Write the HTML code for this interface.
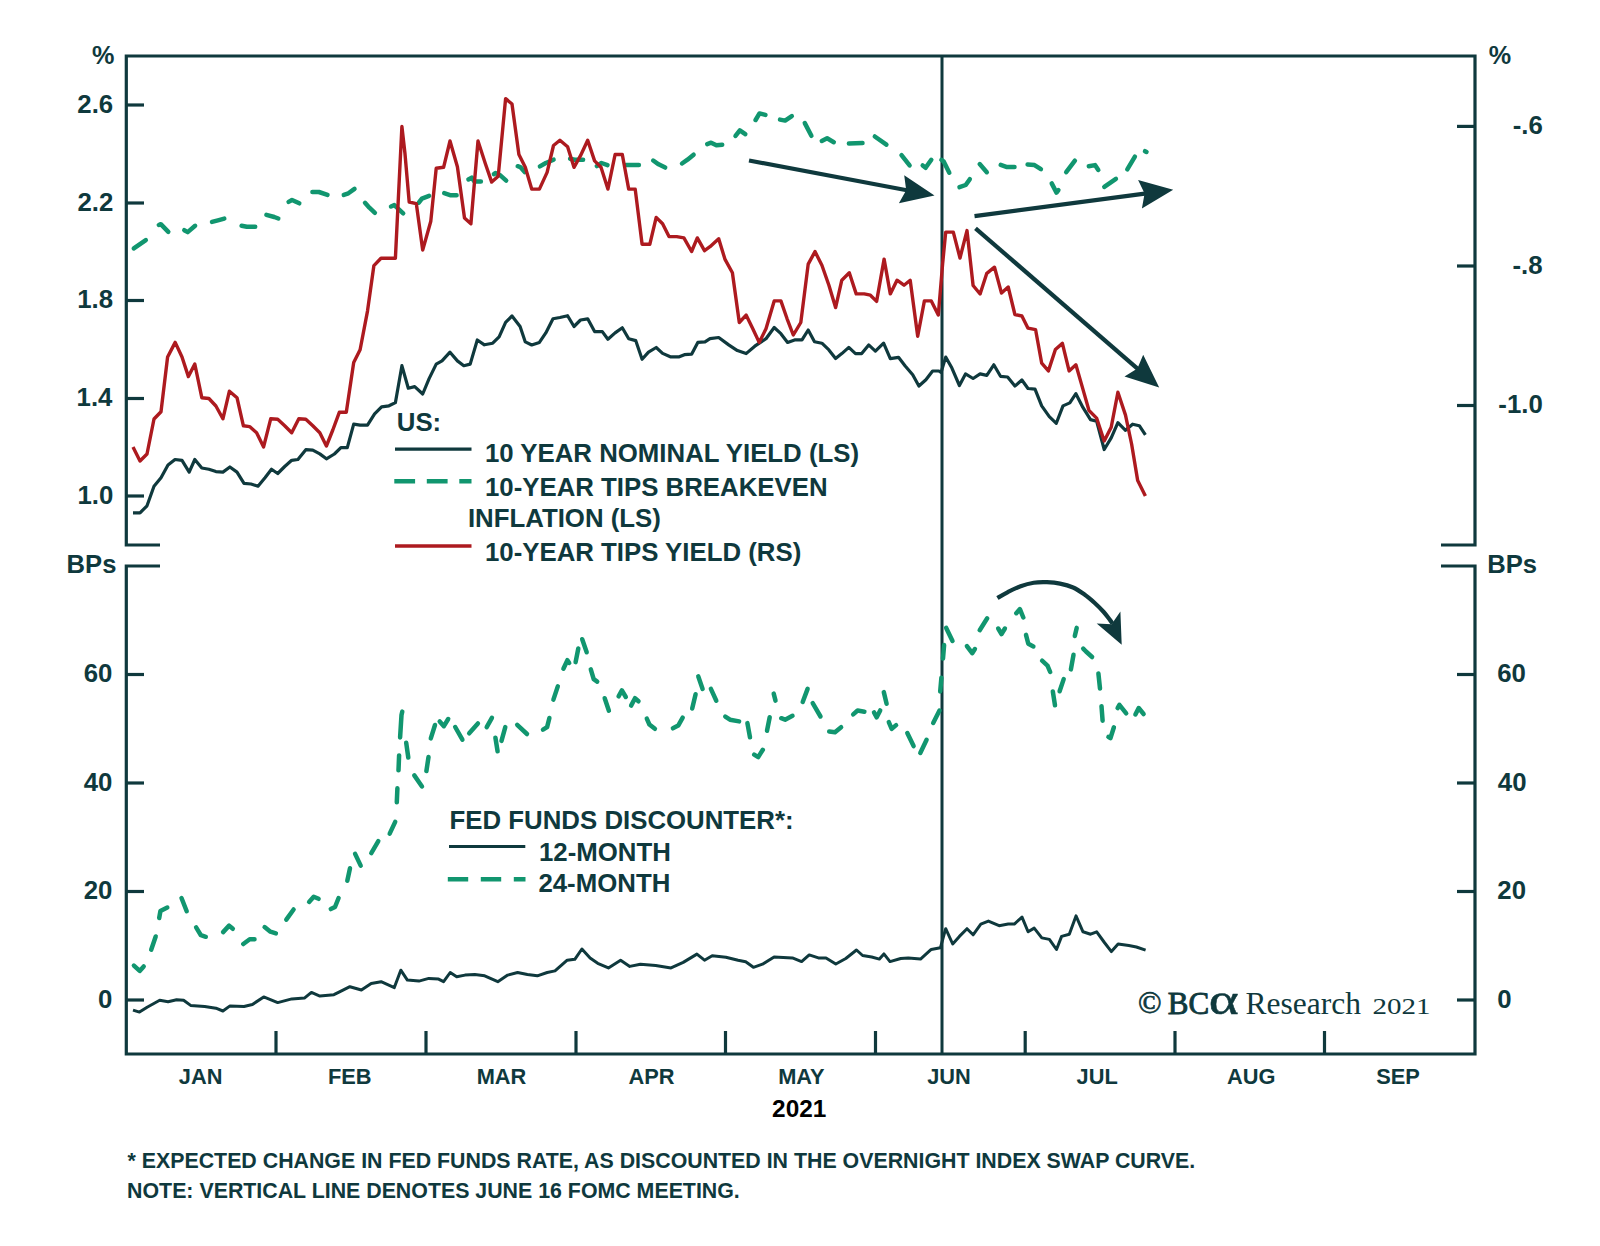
<!DOCTYPE html>
<html><head><meta charset="utf-8"><title>Chart</title>
<style>html,body{margin:0;padding:0;background:#fff;} svg{display:block;}</style></head>
<body><svg width="1600" height="1246" viewBox="0 0 1600 1246">
<rect width="1600" height="1246" fill="#fff"/>
<g stroke="#0f393d" stroke-width="3.2" fill="none" stroke-linecap="butt">
<path d="M160,545 H126.3 V56 H1475 V545 H1441" stroke-linejoin="miter"/>
<path d="M160,566 H126.3 V1054 H1475 V566 H1441" stroke-linejoin="miter"/>
<line x1="126" y1="105" x2="144" y2="105"/>
<line x1="126" y1="203" x2="144" y2="203"/>
<line x1="126" y1="300.5" x2="144" y2="300.5"/>
<line x1="126" y1="398.5" x2="144" y2="398.5"/>
<line x1="126" y1="496" x2="144" y2="496"/>
<line x1="1457" y1="126.4" x2="1475" y2="126.4"/>
<line x1="1457" y1="266" x2="1475" y2="266"/>
<line x1="1457" y1="405.5" x2="1475" y2="405.5"/>
<line x1="126" y1="674.5" x2="144" y2="674.5"/>
<line x1="1457" y1="674.5" x2="1475" y2="674.5"/>
<line x1="126" y1="783" x2="144" y2="783"/>
<line x1="1457" y1="783" x2="1475" y2="783"/>
<line x1="126" y1="891.5" x2="144" y2="891.5"/>
<line x1="1457" y1="891.5" x2="1475" y2="891.5"/>
<line x1="126" y1="1000" x2="144" y2="1000"/>
<line x1="1457" y1="1000" x2="1475" y2="1000"/>
<line x1="276" y1="1031" x2="276" y2="1054"/>
<line x1="426" y1="1031" x2="426" y2="1054"/>
<line x1="576" y1="1031" x2="576" y2="1054"/>
<line x1="725.5" y1="1031" x2="725.5" y2="1054"/>
<line x1="875.5" y1="1031" x2="875.5" y2="1054"/>
<line x1="1025.2" y1="1031" x2="1025.2" y2="1054"/>
<line x1="1175" y1="1031" x2="1175" y2="1054"/>
<line x1="1324.5" y1="1031" x2="1324.5" y2="1054"/>
</g>
<line x1="942" y1="56" x2="942" y2="1054" stroke="#0f393d" stroke-width="3"/>
<g fill="none" stroke="#11966f" stroke-width="4.5" stroke-linejoin="round" stroke-linecap="round"><polyline points="133.8,248.4 145.8,240.1"/><polyline points="158.8,225.0 160.8,224.2 168.3,231.8"/><polyline points="184.3,230.2 187.7,232.1 195.1,225.8"/><polyline points="212.0,221.9 217.9,220.3 224.3,218.6"/><polyline points="241.6,225.8 246.8,226.8 255.2,226.8"/><polyline points="266.4,214.8 274.3,217.0 278.3,218.5"/><polyline points="288.6,201.9 292.0,200.0 299.3,203.3"/><polyline points="312.4,192.0 318.9,192.0 327.5,194.9"/><polyline points="343.8,194.9 348.4,193.3 354.5,188.9"/><polyline points="365.0,202.8 369.4,207.7 374.9,212.8"/><polyline points="391.0,206.5 394.3,205.1 403.2,213.3"/><polyline points="418.8,202.7 421.9,198.6 429.1,195.8"/><polyline points="444.2,193.1 450.8,195.3 456.6,195.3"/><polyline points="468.4,179.5 471.7,177.6 474.4,181.5 480.9,181.5"/><polyline points="493.9,174.1 495.4,173.0 500.6,175.6 506.2,180.6"/><polyline points="517.7,166.2 520.3,167.1 524.7,172.0"/><polyline points="539.9,166.4 545.8,163.0 553.6,159.7"/><polyline points="570.1,158.7 574.6,159.7 583.1,159.7"/><polyline points="596.8,166.1 601.5,163.0 607.5,165.1"/><polyline points="625.9,165.0 638.9,165.0"/><polyline points="653.2,160.5 658.6,164.3 665.2,167.6"/><polyline points="682.0,163.5 687.5,159.7 693.6,154.7"/><polyline points="707.2,144.1 711.1,142.7 716.4,145.3 722.2,144.7"/><polyline points="735.5,135.9 739.8,130.4 745.3,134.2"/><polyline points="755.6,120.0 759.5,113.4 765.4,114.9"/><polyline points="780.0,119.6 785.1,120.6 791.8,116.1"/><polyline points="804.8,123.1 811.4,135.8"/><polyline points="821.8,141.0 827.1,138.3 833.8,142.2"/><polyline points="848.9,143.5 862.5,143.0"/><polyline points="874.8,136.5 886.4,144.7"/><polyline points="901.5,155.2 909.6,165.4"/><polyline points="922.7,165.5 925.6,167.8 931.3,159.8"/><polyline points="941.4,159.8 943.7,161.6 949.3,172.7"/><polyline points="959.5,187.2 965.7,185.0 969.8,179.2"/><polyline points="979.7,164.1 986.8,172.2"/><polyline points="1000.7,164.9 1007.0,167.1 1014.5,167.1"/><polyline points="1027.6,164.5 1034.5,165.1 1040.9,169.2"/><polyline points="1051.7,183.4 1056.5,192.6 1058.4,190.1"/><polyline points="1066.2,172.2 1074.9,160.7"/><polyline points="1088.8,166.2 1095.0,165.1 1098.3,170.0"/><polyline points="1104.3,186.9 1115.9,178.9"/><polyline points="1127.3,169.4 1134.9,156.6"/><polyline points="1145.0,151.2 1146.5,152.0"/></g>
<polyline points="133.0,512.9 140.0,512.9 147.0,505.8 154.0,486.2 161.0,477.8 168.0,465.0 175.0,459.5 182.0,460.3 189.2,472.1 194.8,459.5 201.8,468.0 208.9,469.3 215.9,471.6 222.9,472.1 229.9,467.0 237.0,472.1 244.0,483.4 251.0,484.0 258.0,486.2 265.0,477.8 271.5,469.3 277.7,473.5 284.7,466.5 291.7,460.3 297.9,459.5 305.8,449.7 312.8,450.2 319.8,453.9 326.4,458.8 334.4,454.0 340.9,447.6 347.3,447.6 353.7,424.1 360.1,425.1 367.5,425.1 374.6,413.9 381.6,406.8 389.0,405.8 395.4,402.6 401.9,365.7 408.3,388.2 414.7,386.6 422.7,394.0 429.1,378.6 436.2,364.1 442.0,360.9 450.0,352.2 457.4,360.9 463.8,365.7 470.2,364.1 477.3,340.0 484.4,344.8 492.7,343.2 499.1,336.8 505.6,322.4 512.0,316.0 520.1,326.5 525.3,341.9 531.7,345.0 539.4,342.4 545.8,332.9 553.0,318.8 559.9,317.5 567.6,315.7 574.0,326.5 580.5,320.0 587.7,318.8 594.6,331.6 602.3,331.6 607.9,339.3 615.1,332.9 622.3,327.8 628.7,338.8 635.7,340.6 642.1,359.3 648.5,352.1 656.2,347.5 662.6,353.4 670.3,356.8 679.3,356.8 684.4,354.7 691.6,354.2 697.8,342.4 705.0,341.9 710.0,338.7 718.7,337.5 728.7,344.9 737.4,350.6 746.1,353.6 754.8,346.2 766.0,338.7 774.2,327.5 780.9,333.7 787.6,342.4 794.6,339.9 802.0,339.9 808.2,330.0 814.5,341.7 821.9,343.2 828.9,349.9 835.6,358.6 841.8,353.6 848.8,347.4 855.5,353.6 861.7,353.6 868.7,344.9 875.4,351.1 883.6,343.2 890.3,358.6 898.5,357.3 905.2,366.0 912.7,374.8 918.9,386.0 925.9,379.7 932.6,371.0 938.8,371.0 941.1,372.4 945.7,357.1 951.8,367.8 959.4,385.5 965.5,373.9 973.1,378.5 980.1,373.9 986.8,375.4 993.8,364.8 1000.5,376.3 1007.6,377.0 1014.9,386.1 1021.9,380.0 1028.0,388.5 1035.0,389.1 1041.7,405.9 1049.3,416.6 1056.3,423.3 1063.0,405.9 1069.8,402.9 1075.9,393.7 1082.9,407.4 1090.5,419.6 1096.6,421.2 1104.2,449.5 1111.2,437.9 1117.9,422.7 1125.5,430.3 1132.6,424.2 1139.3,425.7 1145.4,434.9" fill="none" stroke="#0f393d" stroke-width="3.2" stroke-linejoin="round"/>
<polyline points="133.0,446.9 140.0,461.0 147.0,454.0 154.0,419.0 161.0,411.7 167.6,357.0 175.2,342.4 182.0,357.0 188.4,376.6 194.8,364.0 201.8,397.7 208.9,398.5 215.9,406.0 222.9,418.8 229.4,391.2 237.0,397.7 243.4,425.8 249.6,426.6 256.6,432.8 263.6,446.9 270.7,418.8 277.7,419.3 284.7,425.8 291.7,432.8 298.8,418.8 305.8,419.3 312.8,425.8 319.8,432.8 326.4,446.0 332.8,430.0 339.3,412.3 346.3,412.3 353.7,362.5 360.1,349.7 367.5,311.1 373.9,265.6 381.0,258.2 388.0,258.2 395.4,258.2 401.9,126.5 405.0,153.8 409.2,202.0 416.3,203.6 422.7,250.1 430.8,221.2 436.2,168.3 443.6,167.3 450.0,141.0 457.4,166.7 464.5,218.0 470.9,223.8 478.0,141.0 485.3,163.5 491.7,182.1 498.2,176.3 505.6,98.6 512.0,104.0 518.9,154.5 525.3,167.3 531.7,189.1 539.4,189.1 547.1,172.4 553.5,145.5 559.9,140.3 567.6,146.8 574.0,167.3 580.5,155.7 587.7,140.3 594.6,160.9 601.0,167.3 607.9,189.1 615.1,154.5 622.3,154.5 628.7,189.1 635.2,189.1 642.1,244.3 649.8,244.3 656.2,217.4 662.6,223.8 669.0,236.6 676.7,236.6 683.9,237.9 691.6,251.5 697.3,237.9 704.5,250.7 710.0,246.7 718.7,238.7 724.9,259.1 732.4,272.8 739.3,322.5 746.1,315.1 752.8,328.7 759.2,342.4 766.0,328.7 774.2,300.9 780.9,300.9 787.1,318.8 793.3,335.0 800.8,322.5 808.2,264.1 815.0,251.6 821.9,265.3 828.9,285.2 835.6,307.6 841.8,280.2 849.3,272.8 856.2,293.9 864.2,293.9 870.4,295.2 876.6,301.4 884.1,259.1 890.3,293.9 897.0,280.2 904.0,285.2 910.2,280.2 917.7,336.2 924.4,300.9 931.3,300.9 938.3,315.1 942.6,264.1 945.7,232.1 953.3,232.1 960.0,258.0 967.0,230.6 973.1,285.5 980.1,294.0 986.8,273.3 994.5,267.2 1001.5,293.1 1008.2,287.0 1014.9,314.5 1021.9,316.0 1028.0,328.2 1035.6,329.7 1041.7,363.2 1048.4,370.9 1055.4,349.5 1062.4,343.4 1069.1,370.9 1075.9,364.8 1082.9,389.1 1089.0,410.5 1096.6,418.1 1104.2,441.0 1111.2,427.3 1117.9,392.2 1125.5,415.1 1131.6,444.0 1137.7,480.6 1145.4,495.9" fill="none" stroke="#ad1a1f" stroke-width="3.4" stroke-linejoin="round"/>
<g fill="none" stroke="#11966f" stroke-width="4.5" stroke-linejoin="round" stroke-linecap="round"><polyline points="133.9,965.6 139.7,970.9 143.7,966.4"/><polyline points="151.2,949.7 155.7,936.5"/><polyline points="159.2,918.0 160.4,911.1 167.3,907.6"/><polyline points="181.5,898.0 186.7,911.2"/><polyline points="196.1,927.4 200.9,935.2 205.8,936.8"/><polyline points="223.1,932.1 229.1,925.6 232.8,928.8"/><polyline points="243.3,944.0 249.7,939.3 254.5,939.3"/><polyline points="264.6,927.1 270.4,931.7 275.9,933.4"/><polyline points="286.3,919.6 293.6,909.5"/><polyline points="309.1,901.9 313.7,896.7 318.6,898.8"/><polyline points="330.8,909.1 335.0,907.0 338.6,898.0"/><polyline points="347.3,880.7 350.0,868.3"/><polyline points="355.1,853.9 360.7,865.6"/><polyline points="371.3,853.1 378.3,841.2"/><polyline points="389.7,833.6 395.2,821.9"/><polyline points="396.8,802.3 397.4,788.3"/><polyline points="398.5,770.3 399.1,755.4"/><polyline points="400.1,737.4 401.5,715.0 402.3,711.6"/><polyline points="406.2,742.8 408.3,757.6"/><polyline points="414.3,775.4 422.0,786.5"/><polyline points="426.4,771.1 428.5,757.1"/><polyline points="430.8,738.4 435.0,725.0"/><polyline points="439.7,721.4 443.9,726.2 448.2,719.0"/><polyline points="455.2,727.0 462.4,739.7"/><polyline points="469.2,733.3 477.9,723.5"/><polyline points="486.7,727.2 491.9,717.8"/><polyline points="495.4,737.7 497.6,751.3"/><polyline points="501.5,740.9 505.3,727.1"/><polyline points="517.2,724.8 527.0,734.0"/><polyline points="543.0,729.7 547.1,727.1 549.4,718.0"/><polyline points="553.4,699.6 557.8,686.4"/><polyline points="563.4,668.7 567.4,660.2 569.2,662.9"/><polyline points="575.6,662.1 578.3,648.5"/><polyline points="582.2,639.2 586.7,652.3"/><polyline points="590.8,669.4 593.7,679.2 597.2,681.7"/><polyline points="604.7,698.2 608.9,710.7"/><polyline points="618.6,696.4 621.9,690.4 625.8,697.0"/><polyline points="631.1,705.6 635.0,698.2 638.5,701.3"/><polyline points="646.8,718.6 649.4,724.5 654.9,728.8"/><polyline points="672.9,728.3 678.2,725.6 682.7,717.6"/><polyline points="692.2,708.5 695.6,694.2"/><polyline points="698.3,676.4 702.6,688.9"/><polyline points="710.9,688.9 716.3,700.7"/><polyline points="725.3,716.6 730.0,719.7 739.1,721.4"/><polyline points="747.4,723.1 750.0,737.3"/><polyline points="754.2,754.6 758.2,757.1 762.8,749.8"/><polyline points="767.0,730.8 769.7,717.2"/><polyline points="773.7,693.6 775.5,700.6"/><polyline points="781.2,718.2 785.1,719.7 792.5,715.8"/><polyline points="802.7,702.0 807.6,688.9"/><polyline points="812.7,703.2 820.5,716.5"/><polyline points="829.2,731.6 835.0,732.2 841.1,727.2"/><polyline points="853.2,714.4 857.6,710.5 864.4,711.7"/><polyline points="874.0,712.4 876.7,717.3 880.2,710.4"/><polyline points="883.8,692.1 886.6,703.7"/><polyline points="888.8,722.1 891.7,728.9 896.1,725.1"/><polyline points="907.3,733.0 913.6,746.1"/><polyline points="920.3,752.9 926.6,739.8"/><polyline points="933.2,722.9 939.5,710.5"/><polyline points="940.2,691.4 941.4,677.8"/><polyline points="943.0,658.6 944.1,645.1"/><polyline points="946.2,627.9 952.5,641.0"/><polyline points="966.9,646.1 972.2,653.2 974.9,649.0"/><polyline points="979.7,630.2 987.2,618.3"/><polyline points="998.2,628.5 1001.5,634.1 1004.9,628.5"/><polyline points="1016.3,613.2 1019.9,609.1 1023.3,617.5"/><polyline points="1026.0,634.9 1028.3,643.8 1033.4,646.4"/><polyline points="1042.1,660.7 1047.5,665.6 1050.2,672.0"/><polyline points="1052.8,691.4 1055.0,705.3"/><polyline points="1059.6,691.3 1063.7,679.1"/><polyline points="1070.9,669.4 1073.5,654.8"/><polyline points="1074.8,636.0 1076.7,627.9"/><polyline points="1083.2,648.6 1086.0,651.5 1092.1,657.0"/><polyline points="1098.4,673.4 1100.0,688.6"/><polyline points="1101.5,706.2 1102.6,720.7"/><polyline points="1108.4,736.9 1110.4,738.2 1113.9,727.3"/><polyline points="1117.6,708.1 1119.4,704.8 1126.2,713.3"/><polyline points="1135.4,714.5 1138.7,708.0 1143.6,714.0"/></g>
<polyline points="133.0,1010.1 139.5,1012.1 147.1,1007.3 159.7,1000.3 168.1,1001.7 176.6,999.7 183.6,1000.3 190.6,1005.4 204.7,1006.5 215.9,1008.2 222.9,1011.0 230.0,1005.9 244.0,1006.5 252.4,1004.5 263.7,996.9 277.7,1002.6 291.8,998.9 304.4,998.1 311.4,992.4 319.9,996.1 333.9,994.7 339.5,991.9 349.9,986.7 361.4,990.0 371.2,983.4 381.1,981.7 394.3,987.6 400.8,970.2 407.4,980.1 418.9,981.1 428.8,978.4 438.6,979.1 443.6,981.7 450.2,972.5 456.7,976.8 465.0,975.1 474.8,974.5 484.7,975.8 497.8,981.7 507.7,975.1 517.6,972.5 527.4,974.5 537.3,975.8 547.2,972.5 555.0,970.9 567.2,960.2 574.8,959.3 581.9,949.0 590.1,958.1 597.7,963.3 608.4,967.9 620.6,960.2 629.8,966.4 640.4,964.2 655.7,965.4 671.0,967.9 683.2,962.4 696.9,954.1 704.5,960.2 712.2,955.7 725.9,957.2 738.1,960.2 745.7,961.8 753.4,967.3 762.5,964.2 774.1,957.0 792.4,957.9 801.6,961.6 809.2,954.9 818.4,957.9 826.0,957.9 835.8,964.0 845.8,958.5 856.5,950.0 862.6,955.5 871.7,957.0 879.4,959.1 883.9,953.9 890.0,961.6 900.7,958.5 908.3,957.9 920.5,959.1 931.2,949.4 940.4,947.8 945.7,928.7 952.7,944.0 959.4,936.4 967.0,928.7 973.1,934.8 980.8,924.1 988.4,921.1 999.1,925.7 1008.2,924.1 1014.3,924.1 1022.0,917.1 1028.1,931.8 1034.2,928.1 1041.8,937.9 1049.4,939.4 1056.5,949.5 1061.6,936.4 1069.3,934.2 1076.0,915.9 1083.0,931.8 1090.6,934.2 1096.7,931.8 1104.4,942.5 1111.4,951.6 1118.1,944.0 1128.8,945.5 1136.4,947.0 1145.6,950.1" fill="none" stroke="#0f393d" stroke-width="3" stroke-linejoin="round"/>
<line x1="749" y1="160.5" x2="908.2" y2="190.5" stroke="#0f393d" stroke-width="4.2"/><polygon points="934.5,195.5 898.9,203.3 906.2,190.2 904.2,175.2" fill="#0f393d"/>
<line x1="974.5" y1="216.2" x2="1146.6" y2="193.3" stroke="#0f393d" stroke-width="4.2"/><polygon points="1173.2,189.8 1141.9,208.4 1144.6,193.6 1138.1,180.0" fill="#0f393d"/>
<line x1="975.5" y1="228.3" x2="1138.9" y2="369.9" stroke="#0f393d" stroke-width="4.2"/><polygon points="1159.2,387.5 1124.5,376.4 1137.4,368.6 1143.2,354.8" fill="#0f393d"/>
<path d="M997.4,598 C999.1,597.0 1003.6,594.3 1007.5,592.3 C1011.4,590.3 1016.2,587.8 1020.6,586.2 C1025.0,584.6 1029.3,583.4 1033.7,582.7 C1038.1,582.0 1042.5,582.1 1046.9,582.2 C1051.3,582.4 1055.6,582.7 1060,583.6 C1064.4,584.5 1069.0,585.7 1073.1,587.5 C1077.2,589.3 1080.8,591.9 1084.5,594.5 C1088.2,597.1 1091.8,600.3 1095,603.2 C1098.2,606.1 1101.2,609.2 1103.7,612 C1106.2,614.8 1108.4,618.0 1109.9,619.9 C1111.4,621.8 1112.1,622.9 1112.5,623.5" fill="none" stroke="#0f393d" stroke-width="4.2"/>
<polygon points="1121.7,644.8 1096.7,623.4 1111.6,624.2 1120.4,611.6" fill="#0f393d"/>
<line x1="395" y1="449.1" x2="471.5" y2="449.1" stroke="#0f393d" stroke-width="3.2"/>
<line x1="394.3" y1="481.2" x2="471.5" y2="481.2" stroke="#11966f" stroke-width="4.4" stroke-dasharray="20.8 11.7"/>
<line x1="395" y1="546" x2="471.5" y2="546" stroke="#ad1a1f" stroke-width="3.4"/>
<line x1="449" y1="846.5" x2="525.3" y2="846.5" stroke="#0f393d" stroke-width="3.2"/>
<line x1="447.8" y1="879.2" x2="525.5" y2="879.2" stroke="#11966f" stroke-width="4.4" stroke-dasharray="20.4 12.6"/>
<text x="91.88" y="64.4" font-size="25.2" fill="#0f393d" font-weight="bold" font-family='"Liberation Sans", sans-serif' >%</text>
<text x="77.37" y="113.3" font-size="25.8" fill="#0f393d" font-weight="bold" font-family='"Liberation Sans", sans-serif' >2.6</text>
<text x="77.47" y="210.8" font-size="25.8" fill="#0f393d" font-weight="bold" font-family='"Liberation Sans", sans-serif' >2.2</text>
<text x="77.21" y="308.3" font-size="25.8" fill="#0f393d" font-weight="bold" font-family='"Liberation Sans", sans-serif' >1.8</text>
<text x="76.59" y="406.3" font-size="25.8" fill="#0f393d" font-weight="bold" font-family='"Liberation Sans", sans-serif' >1.4</text>
<text x="77.47" y="503.8" font-size="25.8" fill="#0f393d" font-weight="bold" font-family='"Liberation Sans", sans-serif' >1.0</text>
<text x="66.61" y="573.2" font-size="25.6" fill="#0f393d" font-weight="bold" font-family='"Liberation Sans", sans-serif' >BPs</text>
<text x="83.74" y="682.3" font-size="25.8" fill="#0f393d" font-weight="bold" font-family='"Liberation Sans", sans-serif' >60</text>
<text x="83.74" y="790.8" font-size="25.8" fill="#0f393d" font-weight="bold" font-family='"Liberation Sans", sans-serif' >40</text>
<text x="83.74" y="899.3" font-size="25.8" fill="#0f393d" font-weight="bold" font-family='"Liberation Sans", sans-serif' >20</text>
<text x="98.09" y="1007.8" font-size="25.8" fill="#0f393d" font-weight="bold" font-family='"Liberation Sans", sans-serif' >0</text>
<text x="1488.80" y="64.4" font-size="25.2" fill="#0f393d" font-weight="bold" font-family='"Liberation Sans", sans-serif' >%</text>
<text x="1512.65" y="134.20000000000002" font-size="25.8" fill="#0f393d" font-weight="bold" font-family='"Liberation Sans", sans-serif' >-.6</text>
<text x="1512.49" y="273.8" font-size="25.8" fill="#0f393d" font-weight="bold" font-family='"Liberation Sans", sans-serif' >-.8</text>
<text x="1498.35" y="413.3" font-size="25.8" fill="#0f393d" font-weight="bold" font-family='"Liberation Sans", sans-serif' >-1.0</text>
<text x="1487.31" y="573.2" font-size="25.6" fill="#0f393d" font-weight="bold" font-family='"Liberation Sans", sans-serif' >BPs</text>
<text x="1497.27" y="682.3" font-size="25.8" fill="#0f393d" font-weight="bold" font-family='"Liberation Sans", sans-serif' >60</text>
<text x="1497.79" y="790.8" font-size="25.8" fill="#0f393d" font-weight="bold" font-family='"Liberation Sans", sans-serif' >40</text>
<text x="1497.32" y="899.3" font-size="25.8" fill="#0f393d" font-weight="bold" font-family='"Liberation Sans", sans-serif' >20</text>
<text x="1497.17" y="1007.8" font-size="25.8" fill="#0f393d" font-weight="bold" font-family='"Liberation Sans", sans-serif' >0</text>
<text x="178.77" y="1084" font-size="21.8" fill="#0f393d" font-weight="bold" font-family='"Liberation Sans", sans-serif' >JAN</text>
<text x="327.98" y="1084" font-size="21.8" fill="#0f393d" font-weight="bold" font-family='"Liberation Sans", sans-serif' >FEB</text>
<text x="476.67" y="1084" font-size="21.8" fill="#0f393d" font-weight="bold" font-family='"Liberation Sans", sans-serif' >MAR</text>
<text x="628.41" y="1084" font-size="21.8" fill="#0f393d" font-weight="bold" font-family='"Liberation Sans", sans-serif' >APR</text>
<text x="778.14" y="1084" font-size="21.8" fill="#0f393d" font-weight="bold" font-family='"Liberation Sans", sans-serif' >MAY</text>
<text x="927.17" y="1084" font-size="21.8" fill="#0f393d" font-weight="bold" font-family='"Liberation Sans", sans-serif' >JUN</text>
<text x="1076.57" y="1084" font-size="21.8" fill="#0f393d" font-weight="bold" font-family='"Liberation Sans", sans-serif' >JUL</text>
<text x="1226.97" y="1084" font-size="21.8" fill="#0f393d" font-weight="bold" font-family='"Liberation Sans", sans-serif' >AUG</text>
<text x="1376.24" y="1084" font-size="21.8" fill="#0f393d" font-weight="bold" font-family='"Liberation Sans", sans-serif' >SEP</text>
<text x="772.09" y="1117.3" font-size="24.4" fill="#000" font-weight="bold" font-family='"Liberation Sans", sans-serif' >2021</text>
<text x="127.51" y="1168.3" font-size="21.35" fill="#0f393d" font-weight="bold" font-family='"Liberation Sans", sans-serif' >* EXPECTED CHANGE IN FED FUNDS RATE, AS DISCOUNTED IN THE OVERNIGHT INDEX SWAP CURVE.</text>
<text x="127.09" y="1198" font-size="21.35" fill="#0f393d" font-weight="bold" font-family='"Liberation Sans", sans-serif' >NOTE: VERTICAL LINE DENOTES JUNE 16 FOMC MEETING.</text>
<text x="396.75" y="431.2" font-size="25.8" fill="#0f393d" font-weight="bold" font-family='"Liberation Sans", sans-serif' >US:</text>
<text x="484.95" y="462.2" font-size="25.8" fill="#0f393d" font-weight="bold" font-family='"Liberation Sans", sans-serif' >10 YEAR NOMINAL YIELD (LS)</text>
<text x="484.95" y="495.6" font-size="25.8" fill="#0f393d" font-weight="bold" font-family='"Liberation Sans", sans-serif' >10-YEAR TIPS BREAKEVEN</text>
<text x="467.90" y="527.2" font-size="25.8" fill="#0f393d" font-weight="bold" font-family='"Liberation Sans", sans-serif' >INFLATION (LS)</text>
<text x="484.95" y="560.7" font-size="25.8" fill="#0f393d" font-weight="bold" font-family='"Liberation Sans", sans-serif' >10-YEAR TIPS YIELD (RS)</text>
<text x="449.60" y="829.2" font-size="25.8" fill="#0f393d" font-weight="bold" font-family='"Liberation Sans", sans-serif' >FED FUNDS DISCOUNTER*:</text>
<text x="538.95" y="860.7" font-size="25.8" fill="#0f393d" font-weight="bold" font-family='"Liberation Sans", sans-serif' >12-MONTH</text>
<text x="538.42" y="892.2" font-size="25.8" fill="#0f393d" font-weight="bold" font-family='"Liberation Sans", sans-serif' >24-MONTH</text>
<text x="1138.10" y="1013.2" font-size="31" fill="#0f393d" font-weight="normal" font-family='"Liberation Serif", serif' stroke="#0f393d" stroke-width="0.7">©</text>
<text x="1167.73" y="1013.5" font-size="31" fill="#0f393d" font-weight="normal" font-family='"Liberation Serif", serif' stroke="#0f393d" stroke-width="0.9">BC</text>
<text transform="translate(1208.8,1013.5) scale(1.27,1)" font-size="45" fill="#0f393d" stroke="#0f393d" stroke-width="0.5" font-family='"Liberation Serif", serif'>α</text>
<text x="1245.52" y="1013.5" font-size="31.5" fill="#0f393d" font-weight="normal" font-family='"Liberation Serif", serif' >Research</text>
<text x="1372.5" y="1013.5" font-size="22.5" fill="#0f393d" font-family='"Liberation Serif", serif' textLength="58" lengthAdjust="spacingAndGlyphs">2021</text>
</svg></body></html>
